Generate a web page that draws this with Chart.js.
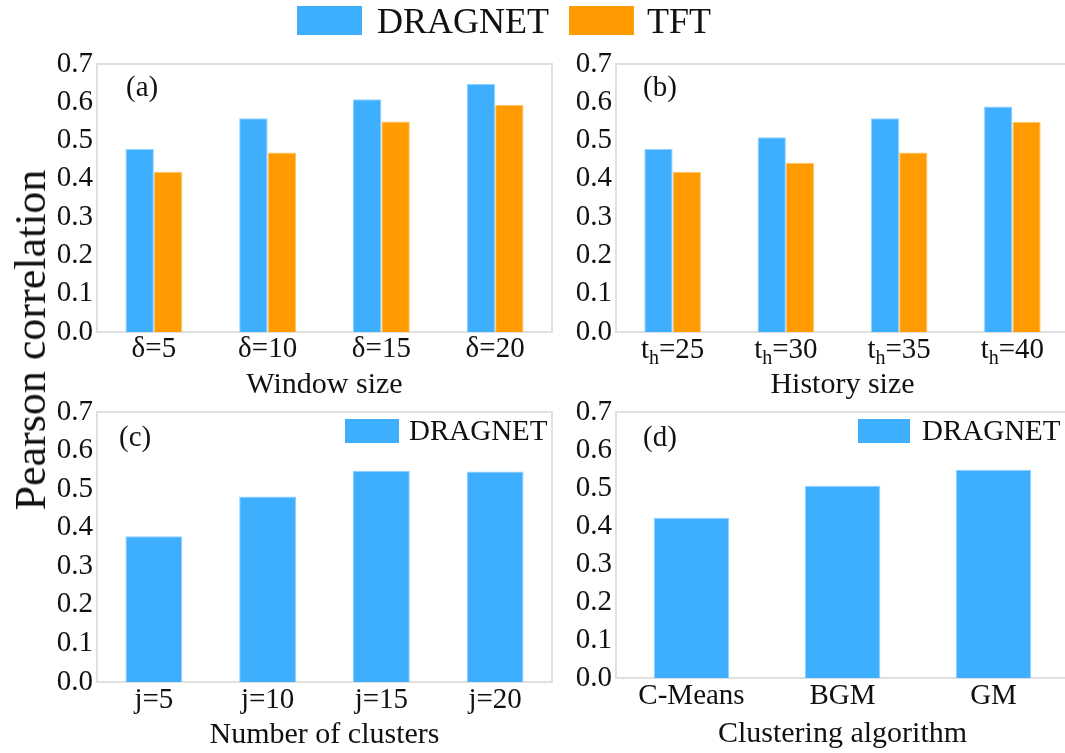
<!DOCTYPE html>
<html><head><meta charset="utf-8">
<script src="https://cdn.jsdelivr.net/npm/chart.js@4.4.1/dist/chart.umd.min.js"></script>
<style>
html,body{margin:0;padding:0;background:#fff;overflow:hidden;width:1065px;height:753px;}
body{position:relative;font-family:"Liberation Serif","Times New Roman",serif;color:#111;}
canvas{position:absolute;}
.t{position:absolute;white-space:nowrap;line-height:1;}
.box{position:absolute;}
</style></head><body>
<canvas id="ca" width="580" height="370" style="left:0;top:40px"></canvas>
<canvas id="cb" width="540" height="370" style="left:560px;top:40px"></canvas>
<canvas id="cc" width="580" height="363" style="left:0;top:390px"></canvas>
<canvas id="cd" width="540" height="363" style="left:560px;top:390px"></canvas>

<div class="box" style="left:297px;top:6px;width:65px;height:29px;background:#3eafff"></div>
<div class="t" style="left:377px;top:3px;font-size:36px">DRAGNET</div>
<div class="box" style="left:569px;top:6px;width:65px;height:29px;background:#ff9a00"></div>
<div class="t" style="left:647px;top:3px;font-size:36px">TFT</div>

<div class="t" style="left:126px;top:72px;font-size:29px">(a)</div>
<div class="t" style="left:643px;top:72px;font-size:29px">(b)</div>
<div class="t" style="left:119px;top:422px;font-size:29px">(c)</div>
<div class="t" style="left:643px;top:422px;font-size:29px">(d)</div>

<div class="box" style="left:345px;top:419px;width:54px;height:24px;background:#3eafff"></div>
<div class="t" style="left:409px;top:416px;font-size:29px">DRAGNET</div>
<div class="box" style="left:858px;top:419px;width:52px;height:24px;background:#3eafff"></div>
<div class="t" style="left:922px;top:416px;font-size:29px">DRAGNET</div>

<div class="t" style="left:31px;top:340px;font-size:44px;transform:translate(-50%,-50%) rotate(-90deg)">Pearson correlation</div>

<script>
// ---- data ----
const windowLabels = ['δ=5', 'δ=10', 'δ=15', 'δ=20'];
const windowDragnet = [0.478, 0.558, 0.608, 0.648];
const windowTft = [0.418, 0.469, 0.550, 0.593];

const historyValues = ['25', '30', '35', '40'];   // shown as t_h=<value>
const historyDragnet = [0.478, 0.509, 0.558, 0.589];
const historyTft = [0.418, 0.442, 0.469, 0.549];

const clusterLabels = ['j=5', 'j=10', 'j=15', 'j=20'];
const clusterDragnet = [0.378, 0.481, 0.548, 0.546];

const algoLabels = ['C-Means', 'BGM', 'GM'];
const algoDragnet = [0.422, 0.506, 0.548];

const yTickValues = [0, 0.1, 0.2, 0.3, 0.4, 0.5, 0.6, 0.7];

// ---- styles ----
const F = '"Liberation Serif", "Times New Roman", serif';
const BLUE = '#3eafff', BLUE_EDGE = '#8fd0ff';
const ORANGE = '#ff9a00', ORANGE_EDGE = '#ffc266';
const TXT = '#111';

const framePlugin = {
  id: 'frame',
  beforeDatasetsDraw(chart) {
    const {ctx, chartArea: a} = chart;
    ctx.save();
    ctx.strokeStyle = '#e0e0e0';
    ctx.lineWidth = 2;
    ctx.strokeRect(a.left, a.top, a.right - a.left, a.bottom - a.top);
    ctx.restore();
  }
};

function ds(label, data, color, edge) {
  return {label, data, backgroundColor: color, borderColor: edge, borderWidth: 1,
          categoryPercentage: 0.5, barPercentage: 1.0};
}

function makeChart(id, labels, datasets, cfg, extraPlugins) {
  return new Chart(document.getElementById(id), {
    type: 'bar',
    data: {labels, datasets},
    options: {
      responsive: false, animation: false, devicePixelRatio: 1,
      layout: {padding: {left: 0, top: cfg.padTop, right: cfg.padRight, bottom: 0}},
      plugins: {legend: {display: false}, tooltip: {enabled: false}},
      scales: {
        x: {
          grid: {display: false, drawTicks: false}, border: {display: false},
          ticks: {font: {family: F, size: 29, lineHeight: 1}, color: TXT, padding: cfg.xTickPad,
                  maxRotation: 0, minRotation: 0, autoSkip: false,
                  callback: cfg.xCallback || function(v, i) { return labels[i]; }},
          title: {display: true, text: cfg.xTitle, color: TXT,
                  font: {family: F, size: 30, lineHeight: 1.2}, padding: {top: 0, bottom: cfg.titlePadB}},
          afterFit(s) { s.height = cfg.xHeight; }
        },
        y: {
          min: 0, max: 0.7,
          grid: {display: false, drawTicks: false}, border: {display: false},
          ticks: {font: {family: F, size: 29}, color: TXT, padding: 4,
                  callback: v => Number(v).toFixed(1)},
          afterBuildTicks(s) { s.ticks = yTickValues.map(v => ({value: v})); },
          afterFit(s) { s.width = cfg.yWidth; }
        }
      }
    },
    plugins: [framePlugin].concat(extraPlugins || [])
  });
}

makeChart('ca', windowLabels,
  [ds('DRAGNET', windowDragnet, BLUE, BLUE_EDGE), ds('TFT', windowTft, ORANGE, ORANGE_EDGE)],
  {padTop: 24, padRight: 28, yWidth: 97, xHeight: 78, xTickPad: 3, titlePadB: 7, xTitle: 'Window size'});

const subLabelPlugin = {
  id: 'subLabels',
  afterDraw(chart) {
    const ctx = chart.ctx, sx = chart.scales.x;
    ctx.save();
    ctx.fillStyle = TXT;
    ctx.textBaseline = 'alphabetic';
    ctx.textAlign = 'left';
    const big = '29px ' + F, small = '20px ' + F;
    historyValues.forEach((v, i) => {
      const x = sx.getPixelForTick(i);
      ctx.font = big; const w1 = ctx.measureText('t').width;
      const w3 = ctx.measureText('=' + v).width;
      ctx.font = small; const w2 = ctx.measureText('h').width;
      const total = w1 + w2 + w3;
      let cx = x - total / 2;
      const base = sx.top + 26;
      ctx.font = big; ctx.fillText('t', cx, base); cx += w1;
      ctx.font = small; ctx.fillText('h', cx, base + 6); cx += w2;
      ctx.font = big; ctx.fillText('=' + v, cx, base);
    });
    ctx.restore();
  }
};

makeChart('cb', historyValues,
  [ds('DRAGNET', historyDragnet, BLUE, BLUE_EDGE), ds('TFT', historyTft, ORANGE, ORANGE_EDGE)],
  {padTop: 24, padRight: 31, yWidth: 56, xHeight: 78, xTickPad: 3, titlePadB: 7, xTitle: 'History size',
   xCallback: () => ''}, [subLabelPlugin]);

makeChart('cc', clusterLabels,
  [ds('DRAGNET', clusterDragnet, BLUE, BLUE_EDGE)],
  {padTop: 22, padRight: 28, yWidth: 97, xHeight: 71, xTickPad: 4, titlePadB: 0, xTitle: 'Number of clusters'});

makeChart('cd', algoLabels,
  [ds('DRAGNET', algoDragnet, BLUE, BLUE_EDGE)],
  {padTop: 22, padRight: 31, yWidth: 56, xHeight: 75, xTickPad: 4, titlePadB: 1, xTitle: 'Clustering algorithm'});
</script>
</body></html>
